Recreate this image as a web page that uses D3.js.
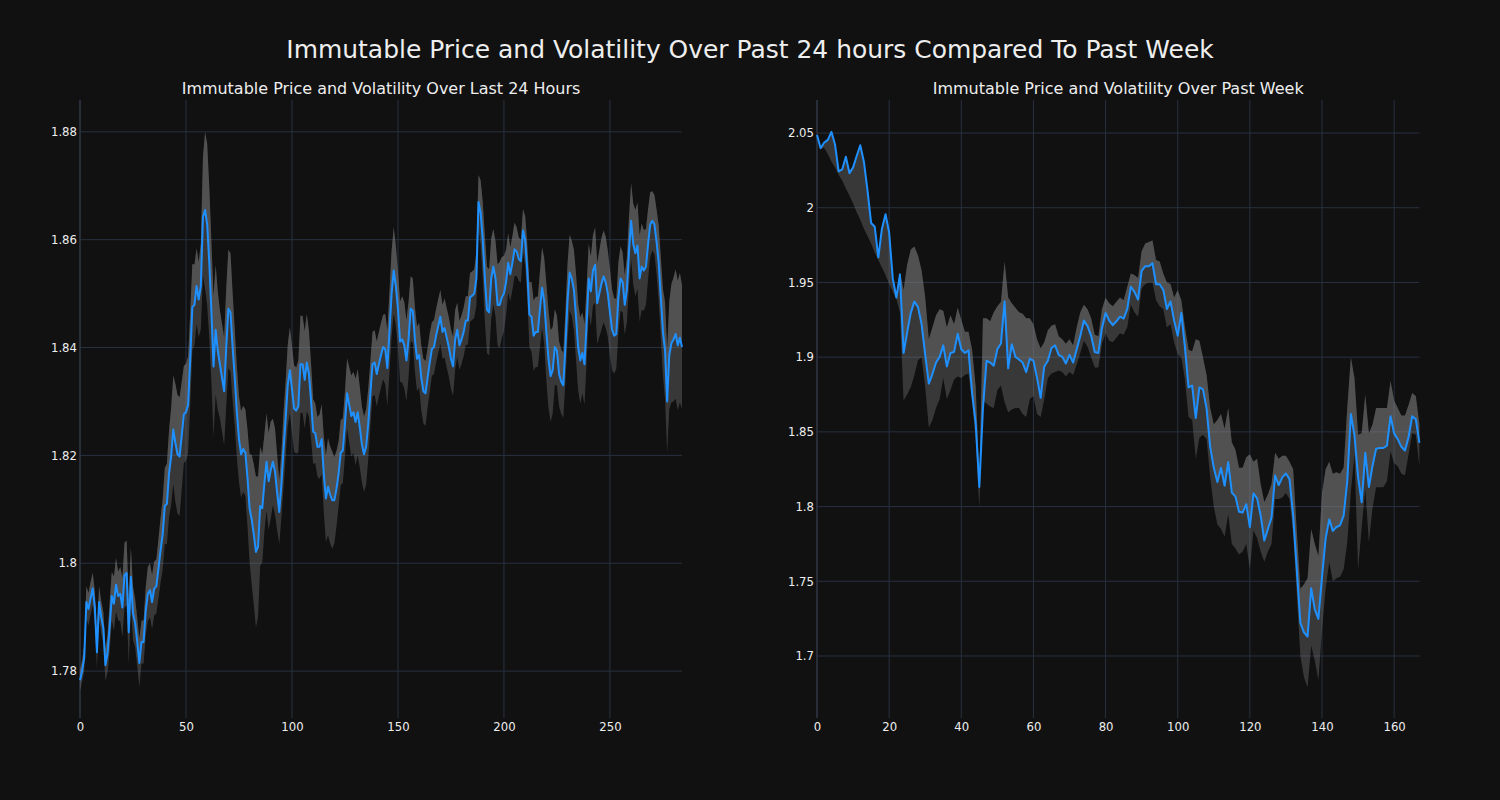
<!DOCTYPE html>
<html>
<head>
<meta charset="utf-8">
<script src="https://cdn.jsdelivr.net/npm/d3@7"></script>
<style>
html,body{margin:0;padding:0;background:#111111;}
svg{display:block;}
text{font-family:"DejaVu Sans",sans-serif;}
</style>
</head>
<body>
<svg id="chart" width="1500" height="800"></svg>
<script>
// ---------------- DATA ----------------
const mainTitle = "Immutable Price and Volatility Over Past 24 hours Compared To Past Week";
const leftTitle = "Immutable Price and Volatility Over Last 24 Hours";
const rightTitle = "Immutable Price and Volatility Over Past Week";

// Last 24 hours: price per step and volatility (half-width of band)
const dayPrice = [
1.7783,1.7800,1.7825,1.7928,1.7915,1.7935,1.7953,1.7918,1.7835,1.7928,
1.7900,1.7880,1.7811,1.7833,1.7882,1.7939,1.7925,1.7960,1.7939,1.7943,
1.7918,1.7978,1.7982,1.7872,1.7975,1.7907,1.7889,1.7854,1.7815,1.7854,
1.7854,1.7911,1.7943,1.7950,1.7928,1.7953,1.7957,1.7989,1.8024,1.8053,
1.8106,1.8110,1.8166,1.8198,1.8248,1.8223,1.8202,1.8198,1.8237,1.8276,
1.8280,1.8294,1.8379,1.8475,1.8479,1.8514,1.8489,1.8514,1.8642,1.8655,
1.8628,1.8557,1.8465,1.8365,1.8433,1.8394,1.8369,1.8344,1.8319,1.8401,
1.8472,1.8465,1.8401,1.8344,1.8280,1.8230,1.8202,1.8212,1.8205,1.8159,
1.8102,1.8081,1.8053,1.8021,1.8031,1.8106,1.8102,1.8149,1.8188,1.8152,
1.8173,1.8188,1.8170,1.8131,1.8095,1.8145,1.8209,1.8266,1.8330,1.8358,
1.8323,1.8287,1.8283,1.8291,1.8369,1.8369,1.8340,1.8372,1.8351,1.8301,
1.8244,1.8241,1.8216,1.8216,1.8230,1.8166,1.8120,1.8142,1.8127,1.8117,
1.8117,1.8138,1.8166,1.8205,1.8209,1.8259,1.8315,1.8294,1.8273,1.8280,
1.8262,1.8280,1.8252,1.8220,1.8202,1.8216,1.8259,1.8315,1.8369,1.8372,
1.8351,1.8369,1.8386,1.8401,1.8397,1.8362,1.8429,1.8500,1.8543,1.8514,
1.8472,1.8411,1.8415,1.8404,1.8376,1.8415,1.8472,1.8468,1.8415,1.8379,
1.8386,1.8344,1.8319,1.8315,1.8344,1.8372,1.8397,1.8401,1.8422,1.8440,
1.8457,1.8429,1.8436,1.8418,1.8401,1.8379,1.8365,1.8415,1.8433,1.8404,
1.8415,1.8429,1.8450,1.8450,1.8493,1.8496,1.8500,1.8528,1.8670,1.8650,
1.8600,1.8528,1.8470,1.8465,1.8528,1.8550,1.8528,1.8479,1.8479,1.8493,
1.8500,1.8521,1.8557,1.8536,1.8557,1.8582,1.8578,1.8564,1.8560,1.8617,
1.8599,1.8543,1.8461,1.8457,1.8422,1.8429,1.8429,1.8472,1.8511,1.8486,
1.8429,1.8379,1.8347,1.8358,1.8401,1.8394,1.8351,1.8337,1.8330,1.8401,
1.8486,1.8539,1.8528,1.8507,1.8457,1.8401,1.8376,1.8390,1.8369,1.8443,
1.8528,1.8504,1.8543,1.8553,1.8482,1.8500,1.8518,1.8532,1.8521,1.8500,
1.8465,1.8433,1.8422,1.8425,1.8493,1.8528,1.8521,1.8479,1.8507,1.8578,
1.8635,1.8592,1.8575,1.8589,1.8528,1.8550,1.8543,1.8550,1.8592,1.8628,
1.8635,1.8628,1.8596,1.8557,1.8493,1.8429,1.8394,1.8300,1.8386,1.8408,
1.8415,1.8425,1.8404,1.8418,1.8401
];
const dayVolatility = [
0.002,0.002,0.0025,0.003,0.003,0.003,0.003,0.003,0.003,0.003,0.003,0.003,0.003,0.0035,
0.0045,0.0045,0.005,0.005,0.0045,0.005,0.0055,0.006,
0.006,0.006,0.0055,0.005,0.0045,0.0045,0.0045,0.004,
0.004,0.0045,0.005,0.005,0.005,0.005,0.005,0.0055,0.006,0.0065,
0.007,0.0075,0.008,0.009,0.010,0.011,0.011,0.011,0.010,0.009,
0.009,0.009,0.0085,0.008,0.0075,0.007,0.007,0.008,
0.011,0.0145,0.015,0.014,0.013,0.013,0.012,
0.011,0.010,0.010,0.010,0.011,0.011,0.011,0.010,
0.009,0.0085,0.008,0.008,0.008,0.008,0.009,0.010,
0.012,0.013,0.014,0.013,0.011,0.010,
0.009,0.009,0.009,0.009,0.008,0.008,0.007,0.006,0.006,0.007,
0.007,0.0075,0.008,0.008,0.008,0.008,0.0085,0.009,0.009,0.009,0.009,0.008,0.007,
0.006,0.0055,0.0055,0.006,0.0065,0.007,0.008,0.009,0.009,0.009,0.008,0.007,0.006,0.006,0.006,0.006,
0.0065,0.007,0.0075,0.0075,0.008,0.008,0.0075,0.007,0.007,0.007,0.0065,0.006,
0.006,0.006,0.006,0.006,0.006,0.006,0.0065,0.007,0.0075,0.008,0.008,0.0075,
0.007,0.0075,0.008,0.008,0.0075,0.007,0.006,0.006,0.006,0.006,
0.006,0.006,0.006,0.006,0.0055,0.0055,0.005,0.005,0.005,0.005,0.005,0.005,0.0055,
0.0055,0.0055,0.0055,0.0055,0.0055,0.005,0.0045,0.0045,0.0045,0.0045,0.0045,0.0045,0.0045,0.0045,
0.005,0.005,0.006,0.007,0.008,0.008,0.008,0.0075,0.007,0.007,0.0075,0.008,0.0075,
0.007,0.006,0.0055,0.005,0.005,0.005,0.0045,0.004,0.004,0.004,0.0045,
0.005,0.006,0.0065,0.0065,0.0065,0.0065,0.007,0.0075,0.008,
0.009,0.009,0.0085,0.008,0.007,0.0065,0.006,0.006,0.006,
0.0065,0.007,0.007,0.007,0.0075,0.008,0.008,0.008,0.0075,0.0075,
0.007,0.0065,0.0065,0.0065,0.007,0.0075,0.008,0.0085,0.0085,0.0085,0.008,0.008,
0.0075,0.007,0.0065,0.0065,0.006,0.0055,0.0055,0.006,
0.0065,0.007,0.0075,0.008,0.008,0.008,0.008,0.0075,0.007,
0.0065,0.006,0.0055,0.0055,0.006,0.007,0.0075,0.008,
0.009,0.0095,0.010,0.011,0.0115,0.012,0.012,0.012,0.0115
];

// Past week: price, band upper and band lower
const weekPrice = [
2.0487,2.0398,2.0436,2.0454,2.0508,2.0423,2.0244,2.0257,2.0341,2.0231,
2.0270,2.0346,2.0418,2.0308,2.0116,1.9898,1.9873,1.9668,1.9860,1.9957,
1.9834,1.9527,1.9399,1.9553,1.9028,1.9168,1.9296,1.9373,1.9335,1.9220,
1.9015,1.8823,1.8887,1.8964,1.9002,1.9079,1.8938,1.9028,1.9035,1.9156,
1.9053,1.9028,1.9045,1.8759,1.8554,1.8131,1.8656,1.8976,1.8964,1.8943,
1.9053,1.9092,1.9373,1.8925,1.9087,1.9002,1.8984,1.8964,1.8900,1.8989,
1.8976,1.8861,1.8728,1.8938,1.8976,1.9061,1.9079,1.9015,1.9002,1.8958,
1.9015,1.8964,1.9053,1.9143,1.9245,1.9207,1.9143,1.9035,1.9028,1.9194,
1.9296,1.9245,1.9214,1.9240,1.9271,1.9258,1.9322,1.9471,1.9437,1.9386,
1.9578,1.9609,1.9609,1.9629,1.9488,1.9488,1.9450,1.9322,1.9373,1.9245,
1.9143,1.9296,1.9066,1.8797,1.8810,1.8592,1.8797,1.8784,1.8656,1.8400,
1.8259,1.8164,1.8259,1.8139,1.8298,1.8093,1.8067,1.7965,1.7960,1.8016,
1.7862,1.8088,1.8055,1.7939,1.7773,1.7850,1.7926,1.8208,1.8144,1.8195,
1.8221,1.8182,1.7939,1.7581,1.7222,1.7158,1.7130,1.7453,1.7312,1.7248,
1.7530,1.7786,1.7914,1.7837,1.7863,1.7875,1.7939,1.8170,1.8620,1.8477,
1.8195,1.8029,1.8360,1.8131,1.8272,1.8387,1.8392,1.8392,1.8408,1.8605,
1.8490,1.8451,1.8400,1.8375,1.8464,1.8605,1.8585,1.8426
];
const weekUpper = [
2.0487,2.0398,2.0436,2.0454,2.0508,2.0423,2.0244,2.0257,2.0341,2.0231,
2.0270,2.0346,2.0418,2.0308,2.0116,1.9898,1.9873,1.9668,1.9860,1.9957,
1.9834,1.9527,1.9399,1.957,1.945,1.962,1.972,1.974,1.968,1.958,
1.940,1.912,1.920,1.928,1.932,1.931,1.920,1.928,1.922,1.933,
1.925,1.917,1.917,1.905,1.880,1.818,1.926,1.926,1.924,1.930,
1.934,1.937,1.964,1.940,1.936,1.933,1.930,1.929,1.926,1.926,
1.922,1.912,1.906,1.910,1.918,1.921,1.922,1.914,1.912,1.909,
1.912,1.908,1.920,1.930,1.935,1.932,1.926,1.915,1.914,1.932,
1.940,1.936,1.934,1.937,1.940,1.938,1.947,1.956,1.955,1.953,
1.971,1.976,1.977,1.978,1.965,1.964,1.956,1.950,1.949,1.940,
1.945,1.938,1.920,1.905,1.904,1.912,1.911,1.900,1.888,1.866,
1.855,1.858,1.862,1.852,1.866,1.843,1.838,1.826,1.826,1.833,
1.835,1.830,1.832,1.815,1.803,1.808,1.815,1.836,1.832,1.834,
1.834,1.830,1.825,1.784,1.745,1.748,1.752,1.785,1.775,1.767,
1.809,1.825,1.830,1.822,1.823,1.822,1.826,1.866,1.900,1.886,
1.848,1.849,1.875,1.849,1.855,1.866,1.866,1.866,1.866,1.884,
1.871,1.866,1.861,1.861,1.868,1.876,1.874,1.855
];
const weekLower = [
2.0487,2.0398,2.040,2.036,2.031,2.027,2.022,2.018,2.013,2.008,
2.003,1.997,1.992,1.986,1.981,1.976,1.970,1.965,1.960,1.955,
1.949,1.944,1.939,1.930,1.871,1.875,1.880,1.888,1.898,1.900,
1.880,1.853,1.858,1.866,1.872,1.886,1.872,1.878,1.885,1.887,
1.886,1.888,1.889,1.870,1.845,1.799,1.871,1.869,1.867,1.866,
1.878,1.881,1.870,1.863,1.865,1.866,1.866,1.862,1.860,1.872,
1.874,1.862,1.860,1.872,1.886,1.889,1.890,1.891,1.890,1.887,
1.890,1.888,1.895,1.903,1.911,1.907,1.900,1.893,1.893,1.909,
1.916,1.911,1.910,1.913,1.916,1.915,1.920,1.935,1.930,1.927,
1.946,1.949,1.950,1.950,1.938,1.934,1.932,1.920,1.922,1.910,
1.902,1.900,1.885,1.860,1.858,1.832,1.846,1.848,1.845,1.820,
1.800,1.788,1.785,1.780,1.795,1.775,1.772,1.768,1.770,1.775,
1.758,1.784,1.779,1.770,1.763,1.770,1.775,1.805,1.805,1.806,
1.809,1.805,1.782,1.742,1.700,1.686,1.679,1.707,1.697,1.684,
1.717,1.745,1.763,1.750,1.752,1.753,1.758,1.776,1.810,1.835,
1.758,1.786,1.812,1.776,1.799,1.813,1.813,1.813,1.817,1.837,
1.829,1.827,1.822,1.821,1.835,1.849,1.848,1.827
];

const dayXTicks = [0, 50, 100, 150, 200, 250];
const dayYTicks = [1.78, 1.80, 1.82, 1.84, 1.86, 1.88];
const weekXTicks = [0, 20, 40, 60, 80, 100, 120, 140, 160];
const weekYTicks = [1.70, 1.75, 1.80, 1.85, 1.90, 1.95, 2.00, 2.05];

// ---------------- DRAW ----------------
const svg = d3.select("#chart");
const BG = "#111111", GRID = "#283140", SPINE = "#323b4a", TXT = "#eeeeee";
const LINE = "#1e90ff", BAND = "#808080", BAND_OP = 0.36;

svg.append("rect").attr("width", 1500).attr("height", 800).attr("fill", BG);

function fitText(sel, target) {
  const w = sel.node().getComputedTextLength();
  const fs = parseFloat(sel.attr("font-size"));
  sel.attr("font-size", fs * target / w);
}

const t = svg.append("text").attr("x", 750).attr("y", 58).attr("text-anchor", "middle")
  .attr("fill", TXT).attr("font-size", 22).text(mainTitle);
fitText(t, 928);

const fmt = d => String(+d.toFixed(2));

function panel(cfg) {
  const n = Math.min(cfg.price.length, cfg.upper.length, cfg.lower.length);
  const idx = d3.range(n);
  const x = d3.scaleLinear().domain([0, n - 1]).range([cfg.x0, cfg.x1]);
  const y = d3.scaleLinear().domain(cfg.yDomain).range([cfg.y1, cfg.y0]);
  const g = svg.append("g");

  // grid
  g.append("g").selectAll("line").data(cfg.xTicks).join("line")
    .attr("x1", d => x(d)).attr("x2", d => x(d)).attr("y1", cfg.y0).attr("y2", cfg.y1)
    .attr("stroke", GRID).attr("stroke-width", 1);
  g.append("g").selectAll("line").data(cfg.yTicks).join("line")
    .attr("x1", cfg.x0).attr("x2", cfg.x1).attr("y1", d => y(d)).attr("y2", d => y(d))
    .attr("stroke", GRID).attr("stroke-width", 1);

  // axes via d3
  const yAxis = d3.axisLeft(y).tickValues(cfg.yTicks).tickFormat(fmt).tickSize(0).tickPadding(3);
  const ya = g.append("g").attr("transform", `translate(${cfg.x0},0)`).call(yAxis);
  ya.select(".domain").attr("stroke", SPINE).attr("d", `M0,${cfg.y0}V${cfg.y1}`);
  ya.selectAll("text").attr("fill", TXT).attr("font-size", 11.7).attr("font-family", "DejaVu Sans");

  const xAxis = d3.axisBottom(x).tickValues(cfg.xTicks).tickFormat(d3.format("d")).tickSize(0).tickPadding(5);
  const xa = g.append("g").attr("transform", `translate(0,${cfg.y1})`).call(xAxis);
  xa.select(".domain").remove();
  xa.selectAll("text").attr("fill", TXT).attr("font-size", 11.7).attr("font-family", "DejaVu Sans");

  // volatility band (two layered gray fills)
  const band = d3.area().x(i => x(i)).y0(i => y(cfg.lower[i])).y1(i => y(cfg.upper[i]));
  g.append("path").datum(idx).attr("d", band).attr("fill", BAND).attr("fill-opacity", BAND_OP);
  const upperHalf = d3.area().x(i => x(i))
    .y0(i => y(Math.min(cfg.price[i], cfg.upper[i]))).y1(i => y(cfg.upper[i]));
  g.append("path").datum(idx).attr("d", upperHalf).attr("fill", BAND).attr("fill-opacity", BAND_OP);

  // price line
  const line = d3.line().x(i => x(i)).y(i => y(cfg.price[i]));
  g.append("path").datum(idx).attr("d", line).attr("fill", "none")
    .attr("stroke", LINE).attr("stroke-width", 2).attr("stroke-linejoin", "round");

  const st = g.append("text").attr("x", (cfg.x0 + cfg.x1) / 2).attr("y", 94).attr("text-anchor", "middle")
    .attr("fill", TXT).attr("font-size", 15).text(cfg.title);
  fitText(st, cfg.titleWidth);
}

panel({
  price: dayPrice,
  upper: dayPrice.map((p, i) => p + dayVolatility[i]),
  lower: dayPrice.map((p, i) => p - dayVolatility[i]),
  x0: 80, x1: 682, y0: 100, y1: 718,
  yDomain: [1.7713, 1.8859],
  xTicks: dayXTicks, yTicks: dayYTicks,
  title: leftTitle, titleWidth: 399
});

panel({
  price: weekPrice, upper: weekUpper, lower: weekLower,
  x0: 817, x1: 1419.4, y0: 100, y1: 718,
  yDomain: [1.6585, 2.0721],
  xTicks: weekXTicks, yTicks: weekYTicks,
  title: rightTitle, titleWidth: 371
});
</script>
</body>
</html>
